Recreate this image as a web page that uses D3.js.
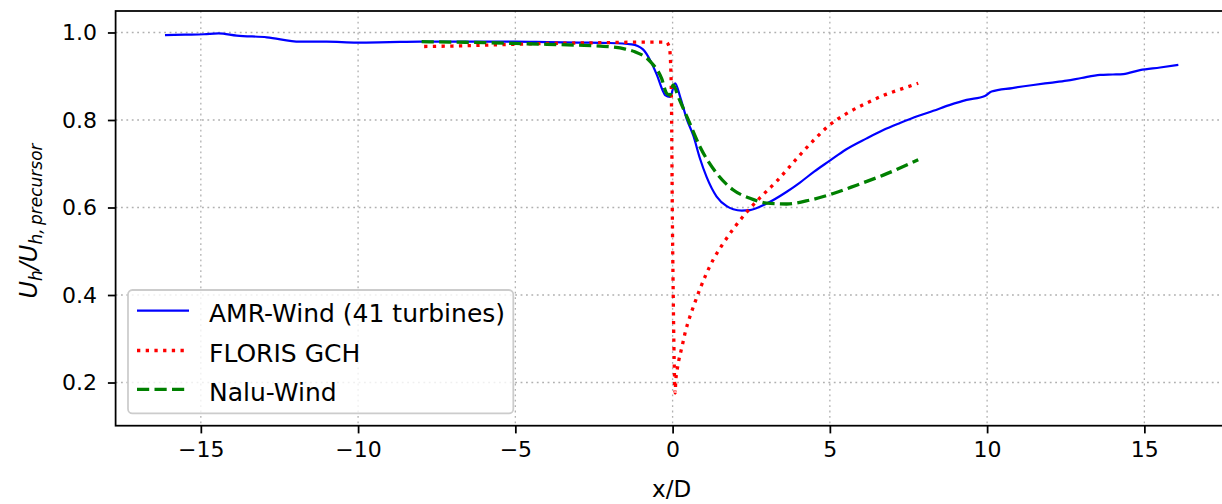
<!DOCTYPE html>
<html>
<head>
<meta charset="utf-8">
<script src="https://cdn.jsdelivr.net/npm/d3@7"></script>
<style>
  html, body { margin: 0; padding: 0; background: #fff; }
  svg { display: block; font-family: "DejaVu Sans", sans-serif; }
</style>
</head>
<body>
<svg id="chart" width="1222" height="504"></svg>
<script>
// ---------- data ----------
const amrX = [-16.14,-15.5,-14.9,-14.44,-13.86,-12.9,-11.85,-11.0,-10.04,-9.0,-8.03,-7.0,-6.0,-5.0,-4.0,-3.0,-2.0,-1.3,-0.95,-0.7,-0.5,-0.3,-0.24,-0.08,0.08,0.24,0.45,0.66,0.87,1.08,1.40,1.72,1.93,2.2,2.46,2.99,3.63,4.05,4.5,5.0,5.5,6.17,6.7,7.23,7.8,8.29,8.8,9.35,9.93,10.14,10.8,11.47,12.0,12.53,13.0,13.59,14.0,14.33,14.86,15.5,16.08];
const amrY = [0.994,0.995,0.996,0.998,0.993,0.989,0.979,0.979,0.977,0.978,0.979,0.979,0.979,0.979,0.978,0.977,0.976,0.973,0.962,0.935,0.903,0.865,0.857,0.853,0.884,0.853,0.802,0.764,0.712,0.670,0.625,0.603,0.596,0.593,0.594,0.609,0.636,0.657,0.682,0.707,0.732,0.758,0.777,0.793,0.809,0.821,0.834,0.846,0.855,0.865,0.873,0.880,0.885,0.890,0.896,0.903,0.904,0.905,0.914,0.920,0.926];

const florisX = [-7.9,-7.0,-6.0,-5.0,-4.0,-3.0,-2.0,-1.0,-0.2,-0.1,-0.05,-0.03,-0.01,0.02,0.05,0.08,0.10,0.14,0.19,0.26,0.33,0.40,0.48,0.585,0.69,0.85,1.05,1.3,1.6,1.95,2.2,2.41,2.83,3.31,3.68,4.10,4.53,5.0,5.54,6.12,6.70,7.28,7.81];
const florisY = [0.968,0.969,0.971,0.973,0.975,0.976,0.977,0.978,0.978,0.965,0.90,0.80,0.60,0.40,0.25,0.176,0.203,0.226,0.248,0.270,0.292,0.314,0.335,0.358,0.379,0.410,0.445,0.482,0.517,0.553,0.576,0.594,0.626,0.660,0.690,0.724,0.757,0.789,0.815,0.837,0.856,0.871,0.884];

const naluX = [-7.98,-7.0,-6.0,-5.0,-4.0,-3.0,-2.3,-1.5,-1.2,-0.7,-0.35,-0.19,-0.08,0.02,0.18,0.5,0.87,1.40,1.93,2.46,2.99,3.63,4.37,5.11,5.85,6.70,7.81];
const naluY = [0.979,0.978,0.977,0.975,0.973,0.971,0.969,0.962,0.956,0.933,0.895,0.861,0.857,0.880,0.853,0.800,0.739,0.678,0.640,0.621,0.610,0.608,0.617,0.632,0.651,0.674,0.709];

const seriesNames = ["AMR-Wind (41 turbines)", "FLORIS GCH", "Nalu-Wind"];
const xTicks = [-15, -10, -5, 0, 5, 10, 15];
const yTicks = [0.2, 0.4, 0.6, 0.8, 1.0];
const xLabel = "x/D";

// ---------- layout ----------
const svg = d3.select("#chart");
const L = 115.6, R = 1229.6, T = 11, B = 425.7;
const FS = 22;

const x = d3.scaleLinear().domain([-17.71, 17.71]).range([L, R]);
const y = d3.scaleLinear().domain([0.1013, 1.0491]).range([B, T]);

svg.append("defs").append("clipPath").attr("id", "clip")
  .append("rect").attr("x", L).attr("y", T).attr("width", R - L).attr("height", B - T);

// grid
const grid = svg.append("g");
grid.selectAll(".gx").data(xTicks).join("line")
  .attr("x1", d => x(d)).attr("x2", d => x(d)).attr("y1", T).attr("y2", B)
  .attr("stroke", "#b0b0b0").attr("stroke-width", 1.3).attr("stroke-dasharray", "1.8,3.6");
grid.selectAll(".gy").data(yTicks).join("line")
  .attr("y1", d => y(d)).attr("y2", d => y(d)).attr("x1", L).attr("x2", R)
  .attr("stroke", "#b0b0b0").attr("stroke-width", 1.3).attr("stroke-dasharray", "1.8,3.6");

// lines
const mk = (xs, ys) => xs.map((v, i) => [v, ys[i]]);
const lineGen = d3.line().x(d => x(d[0])).y(d => y(d[1])).curve(d3.curveMonotoneX);
const plot = svg.append("g").attr("clip-path", "url(#clip)");
const styles = [
  { data: mk(amrX, amrY), color: "#0000ff", w: 2.2, dash: null },
  { data: mk(florisX, florisY), color: "#ff0000", w: 3.3, dash: "3.3,5.4" },
  { data: mk(naluX, naluY), color: "#008000", w: 3.3, dash: "12.2,5.3" }
];
styles.forEach(s => {
  plot.append("path").datum(s.data).attr("d", lineGen)
    .attr("fill", "none").attr("stroke", s.color).attr("stroke-width", s.w)
    .attr("stroke-dasharray", s.dash);
});

// axes
const xAxis = d3.axisBottom(x).tickValues(xTicks).tickSize(7.7).tickPadding(8)
  .tickFormat(d => d3.format("d")(d).replace("-", "\u2212"));
const yAxis = d3.axisLeft(y).tickValues(yTicks).tickSize(7.7).tickPadding(11)
  .tickFormat(d3.format(".1f"));

const gx = svg.append("g").attr("transform", `translate(0,${B})`).call(xAxis);
const gy = svg.append("g").attr("transform", `translate(${L},0)`).call(yAxis);
[gx, gy].forEach(g => {
  g.select(".domain").remove();
  g.selectAll(".tick line").attr("stroke", "#000").attr("stroke-width", 1.76);
  g.selectAll(".tick text").attr("fill", "#000").style("font-size", FS + "px")
    .style("font-family", "DejaVu Sans");
});

// spines
svg.append("rect").attr("x", L).attr("y", T).attr("width", R - L).attr("height", B - T)
  .attr("fill", "none").attr("stroke", "#000").attr("stroke-width", 1.76);

// axis labels
svg.append("text").attr("x", (L + R) / 2 - 1).attr("y", 497).attr("text-anchor", "middle")
  .style("font-size", "23px").text(xLabel);

const yl = svg.append("text").attr("transform", "translate(37,221) rotate(-90)")
  .attr("text-anchor", "middle").style("font-size", "24px").style("font-style", "italic");
yl.append("tspan").text("U");
yl.append("tspan").attr("dy", 5).style("font-size", "17px").text("h");
yl.append("tspan").attr("dy", -5).text("/U");
yl.append("tspan").attr("dy", 5).style("font-size", "17px").text("h,\u2009precursor");

// legend
const lg = svg.append("g");
lg.append("rect").attr("x", 128).attr("y", 290).attr("width", 385.3).attr("height", 123.3)
  .attr("rx", 4.4).attr("fill", "#fff").attr("fill-opacity", 0.8)
  .attr("stroke", "#cccccc").attr("stroke-width", 1.76);
const rowY = [310.7, 350.5, 389.3];
styles.forEach((s, i) => {
  lg.append("line").attr("x1", 137).attr("x2", 189).attr("y1", rowY[i]).attr("y2", rowY[i])
    .attr("stroke", s.color).attr("stroke-width", s.w).attr("stroke-dasharray", s.dash);
  lg.append("text").attr("x", 209).attr("y", rowY[i] + 11.5).style("font-size", "25px")
    .text(seriesNames[i]);
});
</script>
</body>
</html>
